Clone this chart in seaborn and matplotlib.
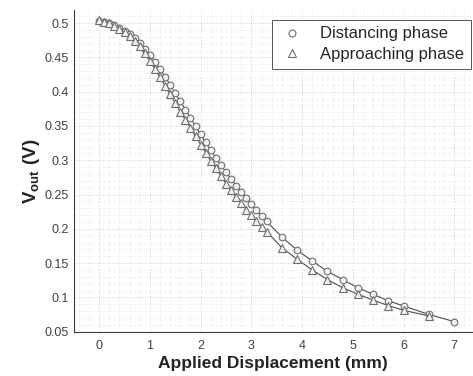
import numpy as np
import pandas as pd
import matplotlib
matplotlib.use("Agg")
import matplotlib.pyplot as plt
from matplotlib.lines import Line2D
from matplotlib.ticker import MultipleLocator
import seaborn as sns

# Dados
desl_dist = [0.0, 0.1, 0.2, 0.3, 0.4, 0.5, 0.6, 0.7, 0.8, 0.9,
             1.0, 1.1, 1.2, 1.3, 1.4, 1.5, 1.6, 1.7, 1.8, 1.9,
             2.0, 2.1, 2.2, 2.3, 2.4, 2.5, 2.6, 2.7, 2.8, 2.9,
             3.0, 3.1, 3.2, 3.3, 3.6, 3.9, 4.2, 4.5, 4.8, 5.1,
             5.4, 5.7, 6.0, 6.5, 7.0]
vout_dist = [0.503, 0.502, 0.500, 0.497, 0.493, 0.489, 0.484, 0.478, 0.471, 0.463,
             0.454, 0.444, 0.433, 0.422, 0.410, 0.398, 0.386, 0.374, 0.362, 0.350,
             0.338, 0.326, 0.315, 0.304, 0.293, 0.283, 0.273, 0.263, 0.254, 0.245,
             0.236, 0.227, 0.219, 0.211, 0.188, 0.169, 0.153, 0.138, 0.126, 0.114,
             0.1045, 0.095, 0.0875, 0.075, 0.0646]

desl_aprox = [0.0, 0.1, 0.2, 0.3, 0.4, 0.5, 0.6, 0.7, 0.8, 0.9,
              1.0, 1.1, 1.2, 1.3, 1.4, 1.5, 1.6, 1.7, 1.8, 1.9,
              2.0, 2.1, 2.2, 2.3, 2.4, 2.5, 2.6, 2.7, 2.8, 2.9,
              3.0, 3.1, 3.2, 3.3, 3.6, 3.9, 4.2, 4.5, 4.8, 5.1,
              5.4, 5.7, 6.0, 6.5]
vout_aprox = [0.504, 0.502, 0.500, 0.496, 0.492, 0.487, 0.481, 0.474, 0.466, 0.456,
              0.445, 0.433, 0.421, 0.408, 0.396, 0.383, 0.371, 0.359, 0.347, 0.335,
              0.323, 0.311, 0.299, 0.288, 0.277, 0.266, 0.256, 0.246, 0.237, 0.228,
              0.220, 0.211, 0.203, 0.196, 0.1726, 0.1556, 0.140, 0.126, 0.114, 0.1045,
              0.096, 0.088, 0.081, 0.073]

nomes = ["Distancing phase", "Approaching phase"]

sns.set_style("white")
plt.rcParams["font.family"] = ["Liberation Sans", "DejaVu Sans"]
plt.rcParams["mathtext.fontset"] = "custom"
plt.rcParams["mathtext.rm"] = "Liberation Sans"
plt.rcParams["mathtext.bf"] = "Liberation Sans:bold"

fig = plt.figure(figsize=(4.73, 3.76), dpi=100)
ax = fig.add_axes([0.156, 0.118, 0.842, 0.855])

cor_linha = "#4d4d4d"
cor_marc = "#6e6e6e"
fundo_marc = "#f2f2f2"

sns.lineplot(x=desl_dist, y=vout_dist, ax=ax, color=cor_linha, linewidth=0.8,
             marker="o", markersize=4.8, markerfacecolor=fundo_marc,
             markeredgecolor=cor_marc, markeredgewidth=0.8, sort=False)
sns.lineplot(x=desl_aprox, y=vout_aprox, ax=ax, color=cor_linha, linewidth=0.8,
             marker="^", markersize=5.2, markerfacecolor=fundo_marc,
             markeredgecolor=cor_marc, markeredgewidth=0.8, sort=False)

ax.set_xlim(-0.5, 7.35)
ax.set_ylim(0.05, 0.519)
ax.xaxis.set_major_locator(MultipleLocator(1))
ax.xaxis.set_minor_locator(MultipleLocator(0.2))
ax.yaxis.set_major_locator(MultipleLocator(0.05))
ax.yaxis.set_minor_locator(MultipleLocator(0.01))
ax.set_yticks(np.arange(0.05, 0.501, 0.05))
ax.set_yticklabels(["0.05", "0.1", "0.15", "0.2", "0.25", "0.3", "0.35", "0.4", "0.45", "0.5"])

ax.grid(which="major", color="#c8c8c8", linestyle=":", linewidth=0.6)
ax.grid(which="minor", color="#dedede", linestyle=":", linewidth=0.5)
ax.set_axisbelow(True)

for lado in ["top", "right"]:
    ax.spines[lado].set_visible(False)
for lado in ["left", "bottom"]:
    ax.spines[lado].set_color("#3a3a3a")
    ax.spines[lado].set_linewidth(0.8)

ax.tick_params(which="major", direction="in", length=3, width=0.6,
               colors="#3a3a3a", labelsize=9, labelcolor="#404040")
ax.tick_params(which="minor", length=0)
ax.tick_params(axis="x", pad=6)

ax.set_xlabel("Applied Displacement (mm)", fontsize=12.5, fontweight="bold",
              color="#222222", labelpad=3)
ax.set_ylabel(r"$\mathbf{V_{out}}$$\mathbf{\ (V)}$", fontsize=13.5,
              color="#222222", labelpad=2)

handles = [Line2D([], [], linestyle="none", marker="o", markersize=5,
                  markerfacecolor="white", markeredgecolor=cor_marc, markeredgewidth=0.8),
           Line2D([], [], linestyle="none", marker="^", markersize=5.5,
                  markerfacecolor="white", markeredgecolor=cor_marc, markeredgewidth=0.8)]
leg = ax.legend(handles, nomes, loc="upper right", bbox_to_anchor=(0.997, 0.97),
                fontsize=12, frameon=True, fancybox=False, framealpha=1,
                edgecolor="#555555", handlelength=1.6, handletextpad=0.9,
                borderpad=0.4, labelspacing=0.35, borderaxespad=0.0)
leg.get_frame().set_linewidth(0.7)

fig.savefig("out.png", dpi=100)
